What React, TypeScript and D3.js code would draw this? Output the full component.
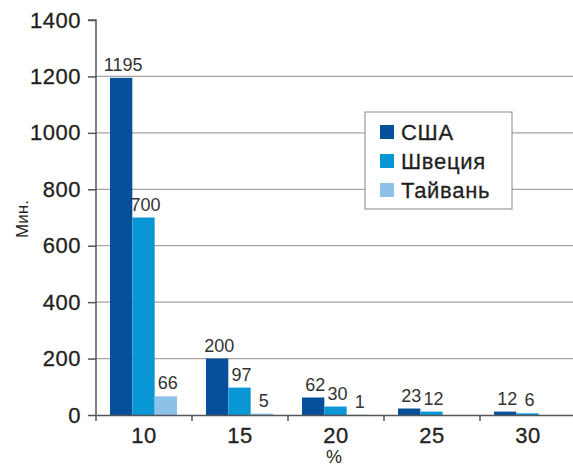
import React, { useEffect, useRef } from 'react'
import * as d3 from 'd3'

const categories = ['10', '15', '20', '25', '30']
const seriesNames = ['США', 'Швеция', 'Тайвань']
const usa = [1195, 200, 62, 23, 12]
const sweden = [700, 97, 30, 12, 6]
const taiwan = [66, 5, 1, null, null]
const yTicks = [0, 200, 400, 600, 800, 1000, 1200, 1400]
const colors = ['#074f9b', '#0897d4', '#8cc1e8']

const width = 573
const height = 466
const margin = { top: 20, right: -3, bottom: 51, left: 96 }

const App = () => {
  const svgRef = useRef<SVGSVGElement>(null)

  useEffect(() => {
    const svg = d3.select(svgRef.current)
    svg.selectAll('*').remove()

    const font = '"Liberation Sans", Arial, sans-serif'
    const ink = '#231f20'
    const x0 = margin.left
    const x1 = width - margin.right
    const yBottom = height - margin.bottom

    const x = d3.scaleBand().domain(categories).range([x0, x1])
    const inner = d3
      .scaleBand()
      .domain(seriesNames)
      .range([14, 14 + 67])
    const y = d3.scaleLinear().domain([0, 1400]).range([yBottom, margin.top])

    // grid
    svg
      .append('g')
      .selectAll('line')
      .data(yTicks.filter(t => t > 0 && t < 1400))
      .enter()
      .append('line')
      .attr('x1', x0)
      .attr('x2', x1)
      .attr('y1', d => y(d))
      .attr('y2', d => y(d))
      .attr('stroke', '#a3a3a3')
      .attr('stroke-width', 1.2)

    const series = [usa, sweden, taiwan]
    const rows = categories.map((c, i) => ({
      cat: c,
      vals: seriesNames.map((s, j) => ({ name: s, idx: j, v: series[j][i] }))
    }))

    const groups = svg
      .append('g')
      .selectAll('g')
      .data(rows)
      .enter()
      .append('g')
      .attr('transform', d => `translate(${x(d.cat)},0)`)

    groups
      .selectAll('rect')
      .data(d => d.vals.filter(v => v.v != null))
      .enter()
      .append('rect')
      .attr('x', d => inner(d.name))
      .attr('width', inner.bandwidth())
      .attr('y', d => y(d.v))
      .attr('height', d => yBottom - y(d.v))
      .attr('fill', d => colors[d.idx])

    groups
      .selectAll('text')
      .data(d => d.vals.filter(v => v.v != null))
      .enter()
      .append('text')
      .attr('x', d => inner(d.name) + inner.bandwidth() / 2 + 2)
      .attr('y', d => y(d.v) - 7)
      .attr('text-anchor', 'middle')
      .attr('font-family', font)
      .attr('font-size', 18)
      .attr('fill', '#333')
      .text(d => d.v)

    // y axis
    const yAxis = d3
      .axisLeft(y)
      .tickValues(yTicks)
      .tickFormat(d3.format('d'))
      .tickSize(8)
      .tickPadding(7)
    const gy = svg
      .append('g')
      .attr('transform', `translate(${x0},0)`)
      .call(yAxis)
    gy.select('.domain').attr('stroke', '#555').attr('stroke-width', 1.5).attr('d', `M-8,${margin.top}H0V${yBottom}`)
    gy.selectAll('.tick line').attr('stroke', '#555').attr('stroke-width', 1.5)
    gy.selectAll('.tick text')
      .attr('font-family', font)
      .attr('font-size', 22)
      .attr('letter-spacing', 0.5)
      .attr('fill', ink)
      .attr('stroke', ink)
      .attr('stroke-width', 0.3)

    // x axis
    const xAxis = d3.axisBottom(x).tickSize(0).tickPadding(12)
    const gx = svg
      .append('g')
      .attr('transform', `translate(0,${yBottom})`)
      .call(xAxis)
    gx.select('.domain').attr('stroke', '#555').attr('stroke-width', 1.5)
    gx.selectAll('.tick text')
      .attr('font-family', font)
      .attr('font-size', 22)
      .attr('letter-spacing', 0.5)
      .attr('fill', ink)
      .attr('stroke', ink)
      .attr('stroke-width', 0.3)
    gx.append('g')
      .selectAll('line')
      .data(categories)
      .enter()
      .append('line')
      .attr('x1', d => x(d))
      .attr('x2', d => x(d))
      .attr('y1', 0)
      .attr('y2', 6)
      .attr('stroke', '#555')
      .attr('stroke-width', 1.5)

    svg
      .append('text')
      .attr('x', (x0 + x1) / 2 - 2)
      .attr('y', 463)
      .attr('text-anchor', 'middle')
      .attr('font-family', font)
      .attr('font-size', 18)
      .attr('fill', ink)
      .text('%')

    svg
      .append('text')
      .attr('transform', `translate(28,219) rotate(-90)`)
      .attr('text-anchor', 'middle')
      .attr('font-family', font)
      .attr('font-size', 17)
      .attr('fill', ink)
      .text('Мин.')

    // legend
    const lg = svg.append('g').attr('transform', 'translate(365,112)')
    lg.append('rect')
      .attr('width', 147)
      .attr('height', 97)
      .attr('fill', '#fff')
      .attr('stroke', '#9a9a9a')
      .attr('stroke-width', 1.2)
    const items = lg
      .selectAll('g')
      .data(seriesNames)
      .enter()
      .append('g')
      .attr('transform', (d, i) => `translate(15,${20 + i * 29})`)
    items
      .append('rect')
      .attr('y', -7)
      .attr('width', 14)
      .attr('height', 14)
      .attr('fill', (d, i) => colors[i])
    items
      .append('text')
      .attr('x', 21)
      .attr('y', 8)
      .attr('font-family', font)
      .attr('font-size', 22)
      .attr('letter-spacing', 0.7)
      .attr('fill', ink)
      .attr('stroke', ink)
      .attr('stroke-width', 0.3)
      .text(d => d)
  }, [])

  return (
    <svg
      ref={svgRef}
      width={width}
      height={height}
      style={{ position: 'absolute', left: 0, top: 0, background: '#fff' }}
    />
  )
}

export default App
